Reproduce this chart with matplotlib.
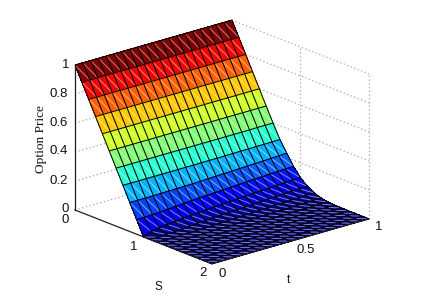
import numpy as np
import matplotlib
matplotlib.use('Agg')
import matplotlib.pyplot as plt
from mpl_toolkits.mplot3d import proj3d
from mpl_toolkits.mplot3d.art3d import Line3DCollection

# tempo e preco do ativo
t_vals = [0.00, 0.05, 0.10, 0.15, 0.20, 0.25, 0.30, 0.35, 0.40, 0.45, 0.50,
          0.55, 0.60, 0.65, 0.70, 0.75, 0.80, 0.85, 0.90, 0.95, 1.00]
s_vals = [0.0, 0.1, 0.2, 0.3, 0.4, 0.5, 0.6, 0.7, 0.8, 0.9, 1.0,
          1.1, 1.2, 1.3, 1.4, 1.5, 1.6, 1.7, 1.8, 1.9, 2.0]

# precos, uma linha por valor de S
price = [
    [1.000] * 21,
    [0.900] * 21,
    [0.800] * 21,
    [0.700] * 21,
    [0.600] * 21,
    [0.500] * 21,
    [0.400] * 18 + [0.401, 0.401, 0.401],
    [0.300] * 10 + [0.301, 0.301, 0.301, 0.302, 0.302, 0.303, 0.303, 0.304, 0.304, 0.305, 0.306],
    [0.200, 0.200, 0.200, 0.200, 0.201, 0.202, 0.203, 0.204, 0.205, 0.207, 0.209,
     0.211, 0.213, 0.215, 0.217, 0.219, 0.221, 0.223, 0.225, 0.228, 0.230],
    [0.100, 0.101, 0.104, 0.107, 0.111, 0.115, 0.119, 0.123, 0.127, 0.129, 0.132,
     0.135, 0.138, 0.141, 0.144, 0.147, 0.149, 0.152, 0.154, 0.156, 0.158],
    [0.000, 0.022, 0.032, 0.039, 0.045, 0.050, 0.055, 0.059, 0.063, 0.067, 0.070,
     0.074, 0.077, 0.080, 0.083, 0.086, 0.089, 0.092, 0.095, 0.097, 0.099],
    [0.000, 0.001, 0.004, 0.007, 0.011, 0.015, 0.019, 0.023, 0.027, 0.029, 0.032,
     0.035, 0.038, 0.041, 0.044, 0.047, 0.049, 0.052, 0.054, 0.056, 0.058],
    [0.000, 0.000, 0.000, 0.001, 0.001, 0.003, 0.004, 0.006, 0.008, 0.010, 0.012,
     0.014, 0.016, 0.018, 0.020, 0.022, 0.024, 0.026, 0.027, 0.029, 0.030],
    [0.000, 0.000, 0.000, 0.000, 0.000, 0.000, 0.000, 0.001, 0.001, 0.002, 0.003,
     0.004, 0.005, 0.006, 0.007, 0.008, 0.009, 0.010, 0.012, 0.013, 0.014],
    [0.000, 0.000, 0.000, 0.000, 0.000, 0.000, 0.000, 0.000, 0.000, 0.000, 0.001,
     0.001, 0.001, 0.001, 0.002, 0.002, 0.003, 0.004, 0.004, 0.005, 0.006],
    [0.000] * 15 + [0.001, 0.001, 0.001, 0.002, 0.002, 0.002],
    [0.000] * 18 + [0.001, 0.001, 0.001],
    [0.000] * 21,
    [0.000] * 21,
    [0.000] * 21,
    [0.000] * 21,
]

s_ticks = [0, 1, 2]
t_ticks = [0, 0.5, 1]
z_ticks = [0, 0.2, 0.4, 0.6, 0.8, 1]

W, H = 424, 297

S, T = np.meshgrid(s_vals, t_vals, indexing='ij')
Z = np.array(price)

plt.rcParams['font.family'] = ['Liberation Sans', 'DejaVu Sans']

fig = plt.figure(figsize=(W / 100, H / 100), dpi=100)
ax = fig.add_axes([0, 0, 1, 1], projection='3d', computed_zorder=False)
ax.set_proj_type('ortho')
ax.view_init(elev=19.6, azim=-40.5)
ax.set_box_aspect((211, 206.5, 154))
ax.set_xlim(0, 2)
ax.set_ylim(0, 1)
ax.set_zlim(0, 1)
ax.set_axis_off()


def para_pixel(s, t, z):
    xp, yp, _ = proj3d.proj_transform(s, t, z, ax.get_proj())
    return ax.transData.transform((xp, yp))


# ajusta a posicao do eixo para a origem e a altura cairem como na figura
side = 400.0
ax.set_position([0, 0, side / W, side / H])
fig.canvas.draw()
p0 = para_pixel(0, 0, 0)
p1 = para_pixel(0, 0, 1)
side = side * 145 / abs(p1[1] - p0[1])
ax.set_position([0, 0, side / W, side / H])
fig.canvas.draw()
p0 = para_pixel(0, 0, 0)
ax.set_position([(75 - p0[0]) / W, (H - 210 - p0[1]) / H, side / W, side / H])
fig.canvas.draw()

# grade pontilhada das paredes
grid_kw = dict(color='#a8a8a8', linestyle=(0, (1, 2)), linewidth=0.9, zorder=1, clip_on=False)
for z in z_ticks:
    ax.plot([0, 0], [0, 1], [z, z], **grid_kw)
    ax.plot([0, 2], [1, 1], [z, z], **grid_kw)
for s in s_ticks[1:]:
    ax.plot([s, s], [1, 1], [0, 1], **grid_kw)
for t in t_ticks:
    ax.plot([0, 0], [t, t], [0, 1], **grid_kw)

# superficie
jet = plt.get_cmap('jet', 64)
cores = jet(Z)
surf = ax.plot_surface(S, T, Z, rstride=1, cstride=1, facecolors=cores, shade=False,
                       edgecolor='none', linewidth=0, antialiased=False, zorder=2)
surf.set_clip_on(False)

# diagonal clara que aparece em cada celula
diag = []
for i in range(len(s_vals) - 1):
    for j in range(len(t_vals) - 1):
        diag.append([(s_vals[i], t_vals[j], Z[i, j]), (s_vals[i + 1], t_vals[j + 1], Z[i + 1, j + 1])])
lc = Line3DCollection(diag, colors='white', linewidths=0.7, alpha=0.5, zorder=3)
lc.set_clip_on(False)
ax.add_collection3d(lc)

# malha preta por cima
malha = ax.plot_wireframe(S, T, Z, rstride=1, cstride=1, color='black', linewidth=0.72, zorder=4)
malha.set_clip_on(False)

# eixos
eixo_kw = dict(color='#202020', linewidth=0.9, zorder=5, clip_on=False)
ax.plot([0, 0], [0, 0], [0, 1], **eixo_kw)
ax.plot([0, 2], [0, 0], [0, 0], **eixo_kw)
ax.plot([2, 2], [0, 1], [0, 0], **eixo_kw)


def rotulo(x, y, txt, **kw):
    fig.text(x / W, 1 - y / H, txt, ha='center', va='center', **kw)


tick_fs = 9.5
for z, lab, x in zip(z_ticks, ['0', '0.2', '0.4', '0.6', '0.8', '1'], [65.5, 59, 59, 59, 59, 65.5]):
    y = H - para_pixel(0, 0, z)[1]
    rotulo(x, y - 0.5, lab, fontsize=tick_fs, color='#111111')
for s, lab, xy in zip(s_ticks, ['0', '1', '2'], [(65, 220), (134, 247), (203, 273)]):
    rotulo(xy[0], xy[1], lab, fontsize=tick_fs, color='#111111')
for t, lab, xy in zip(t_ticks, ['0', '0.5', '1'], [(222, 274), (306, 250), (379, 227)]):
    rotulo(xy[0], xy[1], lab, fontsize=tick_fs, color='#111111')

rotulo(158, 287, 'S', fontsize=8.5, color='#111111')
rotulo(288, 280, 't', fontsize=8.5, color='#111111')
rotulo(41, 139, 'Option Price', fontsize=9.6, rotation=90, color='#111111', family='Liberation Serif')

fig.savefig('out.png', dpi=100)
